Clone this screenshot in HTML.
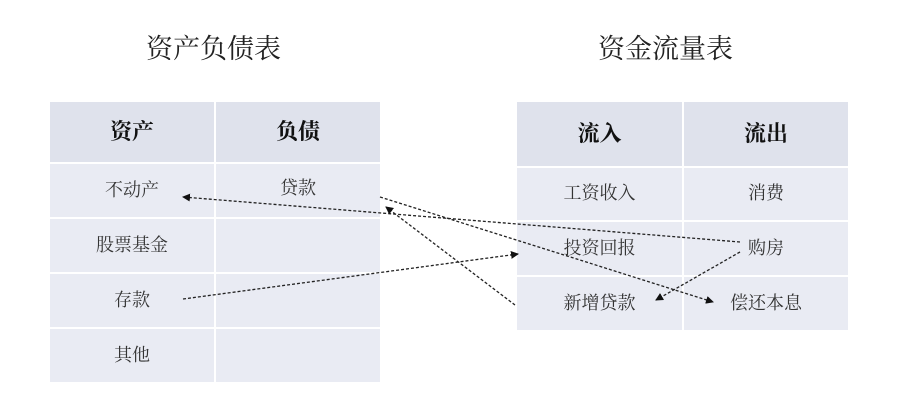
<!DOCTYPE html>
<html><head><meta charset="utf-8"><style>
body{margin:0;width:918px;height:415px;background:#fff;position:relative;overflow:hidden;font-family:"Liberation Serif","Noto Serif CJK SC",serif;}
.t{position:absolute;font-size:27px;color:#222;}
.c{position:absolute;display:flex;align-items:center;justify-content:center;font-size:18px;color:#333;background:#e9ebf3;box-sizing:border-box;padding-bottom:4px;}
.h{background:#dfe2ec;font-weight:bold;font-size:22px;color:#111;}
</style></head><body>
<div class="t" style="left:146px;top:27px">资产负债表</div>
<div class="t" style="left:598px;top:27px">资金流量表</div>

<div class="c h" style="left:50px;top:102px;width:164px;height:60px">资产</div>
<div class="c h" style="left:216px;top:102px;width:164px;height:60px">负债</div>
<div class="c" style="left:50px;top:164px;width:164px;height:53px">不动产</div>
<div class="c" style="left:216px;top:164px;width:164px;height:53px;padding-bottom:8px">贷款</div>
<div class="c" style="left:50px;top:219px;width:164px;height:53px">股票基金</div>
<div class="c" style="left:216px;top:219px;width:164px;height:53px"></div>
<div class="c" style="left:50px;top:274px;width:164px;height:53px">存款</div>
<div class="c" style="left:216px;top:274px;width:164px;height:53px"></div>
<div class="c" style="left:50px;top:329px;width:164px;height:53px">其他</div>
<div class="c" style="left:216px;top:329px;width:164px;height:53px"></div>

<div class="c h" style="left:517px;top:102px;width:165px;height:64px">流入</div>
<div class="c h" style="left:684px;top:102px;width:164px;height:64px">流出</div>
<div class="c" style="left:517px;top:168px;width:165px;height:52px">工资收入</div>
<div class="c" style="left:684px;top:168px;width:164px;height:52px">消费</div>
<div class="c" style="left:517px;top:222px;width:165px;height:53px">投资回报</div>
<div class="c" style="left:684px;top:222px;width:164px;height:53px">购房</div>
<div class="c" style="left:517px;top:277px;width:165px;height:53px">新增贷款</div>
<div class="c" style="left:684px;top:277px;width:164px;height:53px">偿还本息</div>

<svg width="918" height="415" style="position:absolute;left:0;top:0">
<defs><marker id="a" markerWidth="8" markerHeight="8" refX="7" refY="4" orient="auto" markerUnits="userSpaceOnUse"><path d="M0,0 L8,4 L0,8 z" fill="#111"/></marker></defs>
<g stroke="#222" stroke-width="1.3" stroke-dasharray="3,2" fill="none" marker-end="url(#a)">
<line x1="740" y1="242" x2="183" y2="197"/>
<line x1="183" y1="299" x2="518" y2="254"/>
<line x1="380" y1="197" x2="713" y2="302"/>
<line x1="515" y1="305" x2="386" y2="207"/>
<line x1="740" y1="252" x2="656" y2="300"/>
</g></svg>
</body></html>
